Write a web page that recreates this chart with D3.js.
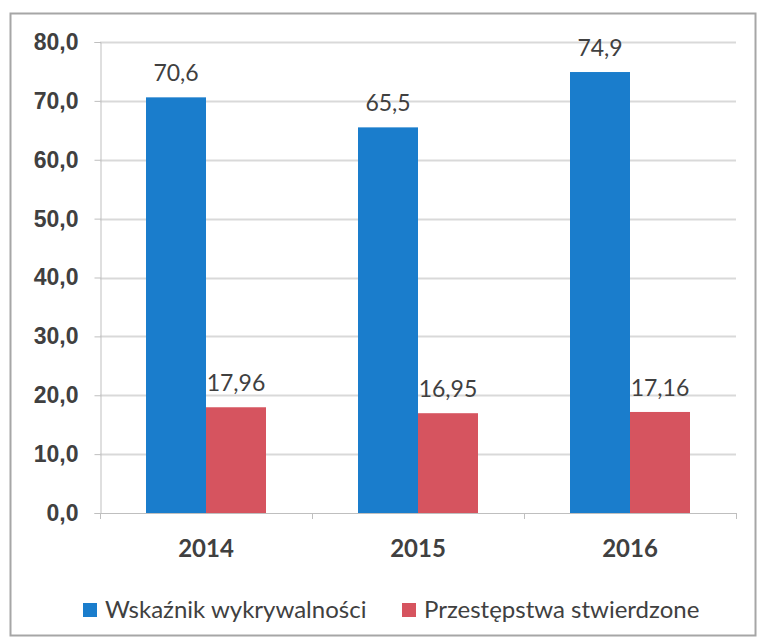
<!DOCTYPE html>
<html>
<head>
<meta charset="utf-8">
<script src="https://cdn.jsdelivr.net/npm/d3@7"></script>
<style>
  html, body { margin: 0; padding: 0; background: #fff; }
  svg { display: block; font-family: Lato, 'Open Sans', sans-serif; }
</style>
</head>
<body>
<div id="chart"></div>
<script>
;(function() {
  'use strict';

  var years = ['2014', '2015', '2016'];
  var wykrywalnosc = [70.6, 65.5, 74.9];
  var przestepstwa = [17.96, 16.95, 17.16];
  var seriesNames = ['Wskaźnik wykrywalności', 'Przestępstwa stwierdzone'];
  var seriesColors = ['#1a7dcc', '#d6545f'];
  var yTicks = [0, 10, 20, 30, 40, 50, 60, 70, 80];

  var width = 757, height = 638;
  var area = { left: 100, top: 42, right: 736, bottom: 513 };

  var pl = d3.formatLocale({ decimal: ',', thousands: ' ', grouping: [3], currency: ['', ' zł'] });
  var fmt1 = pl.format('.1f');
  var fmt2 = pl.format('.2f');

  var svg = d3.select('#chart')
  .append('svg')
    .attr('width', width)
    .attr('height', height);

  // frame round the chart
  svg.append('rect')
    .attr('x', 10.5)
    .attr('y', 13.5)
    .attr('width', 745)
    .attr('height', 622)
    .attr('fill', 'none')
    .attr('stroke', '#a6a6a6')
    .attr('stroke-width', 2);

  var x0 = d3.scaleBand()
    .domain(years)
    .range([area.left, area.right])
    .paddingInner(0.434)
    .paddingOuter(0.217);

  var x1 = d3.scaleBand()
    .domain([0, 1])
    .range([0, x0.bandwidth()]);

  var y = d3.scaleLinear()
    .domain([0, 80])
    .range([area.bottom, area.top]);

  // horizontal grid
  svg.append('g')
    .attr('class', 'grid')
  .selectAll('line')
  .data(yTicks.filter(function(d) { return d > 0; }))
  .enter().append('line')
    .attr('x1', area.left)
    .attr('x2', area.right)
    .attr('y1', function(d) { return Math.round(y(d)) + 0.5; })
    .attr('y2', function(d) { return Math.round(y(d)) + 0.5; })
    .attr('stroke', '#d9d9d9')
    .attr('stroke-width', 2);

  // y axis
  var yAxis = d3.axisLeft(y)
    .tickValues(yTicks)
    .tickSize(6)
    .tickPadding(16)
    .tickFormat(fmt1);

  var gy = svg.append('g')
    .attr('transform', 'translate(' + (area.left + 0.5) + ',0)')
    .call(yAxis);
  gy.select('.domain').attr('stroke', '#bfbfbf');
  gy.selectAll('.tick line').attr('stroke', '#bfbfbf');
  gy.selectAll('.tick text')
    .attr('fill', '#404040')
    .style('font-size', '23px')
    .style('font-weight', 600);

  // x axis, ticks between categories
  var bounds = [area.left, area.left + x0.step(), area.left + 2 * x0.step(), area.right];
  var gx = svg.append('g').attr('class', 'x-axis');
  gx.append('line')
    .attr('x1', area.left)
    .attr('x2', area.right)
    .attr('y1', area.bottom + 0.5)
    .attr('y2', area.bottom + 0.5)
    .attr('stroke', '#bfbfbf');
  gx.selectAll('line.tick')
  .data(bounds)
  .enter().append('line')
    .attr('class', 'tick')
    .attr('x1', function(d) { return Math.round(d) + 0.5; })
    .attr('x2', function(d) { return Math.round(d) + 0.5; })
    .attr('y1', area.bottom)
    .attr('y2', area.bottom + 6)
    .attr('stroke', '#bfbfbf');
  gx.selectAll('text')
  .data(years)
  .enter().append('text')
    .attr('x', function(d) { return x0(d) + x0.bandwidth() / 2; })
    .attr('y', area.bottom + 44)
    .attr('text-anchor', 'middle')
    .attr('fill', '#404040')
    .style('font-size', '24px')
    .style('font-weight', 700)
    .text(function(d) { return d; });

  // bars
  var series = [wykrywalnosc, przestepstwa];
  var formats = [fmt1, fmt2];

  series.forEach(function(values, s) {
    var g = svg.append('g').attr('class', 'series-' + s);

    g.selectAll('rect')
    .data(values)
    .enter().append('rect')
      .attr('x', function(d, i) { return x0(years[i]) + x1(s); })
      .attr('y', function(d) { return y(d); })
      .attr('width', x1.bandwidth())
      .attr('height', function(d) { return y(0) - y(d); })
      .attr('fill', seriesColors[s]);

    g.selectAll('text')
    .data(values)
    .enter().append('text')
      .attr('x', function(d, i) { return x0(years[i]) + x1(s) + x1.bandwidth() / 2; })
      .attr('y', function(d) { return y(d) - 16; })
      .attr('text-anchor', 'middle')
      .attr('fill', '#404040')
      .style('font-size', '23px')
      .text(function(d) { return formats[s](d); });
  });

  // legend
  var legendX = [83, 402];
  var legend = svg.append('g').attr('class', 'legend');
  seriesNames.forEach(function(name, s) {
    legend.append('rect')
      .attr('x', legendX[s])
      .attr('y', 603)
      .attr('width', 14)
      .attr('height', 14)
      .attr('fill', seriesColors[s]);
    legend.append('text')
      .attr('x', legendX[s] + 22)
      .attr('y', 618)
      .attr('fill', '#404040')
      .style('font-size', '24px')
      .text(name);
  });

})();
</script>
</body>
</html>
